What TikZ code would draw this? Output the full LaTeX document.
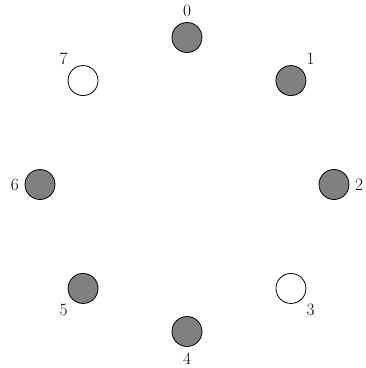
\documentclass[tikz,border=0pt]{standalone}
\usepackage{tikz}

\begin{document}
\begin{tikzpicture}[
  x=1pt,y=1pt,
  font=\LARGE,
  vert/.style={draw,circle,line width=0.8pt,minimum size=30pt,inner sep=0pt},
  fullvert/.style={vert,fill=gray},
  emptyvert/.style={vert,fill=white}
]
\useasboundingbox (-187,-183.5) rectangle (179,184.5);

% ---- ring of eight vertices ----
\foreach \k/\st in {0/fullvert,1/fullvert,2/fullvert,3/emptyvert,4/fullvert,5/fullvert,6/fullvert,7/emptyvert} {
  \node[\st,label={[inner sep=2pt,label distance=3.5pt]90-45*\k:\k}] (v\k) at (90-45*\k:147) {};
}

\end{tikzpicture}
\end{document}
